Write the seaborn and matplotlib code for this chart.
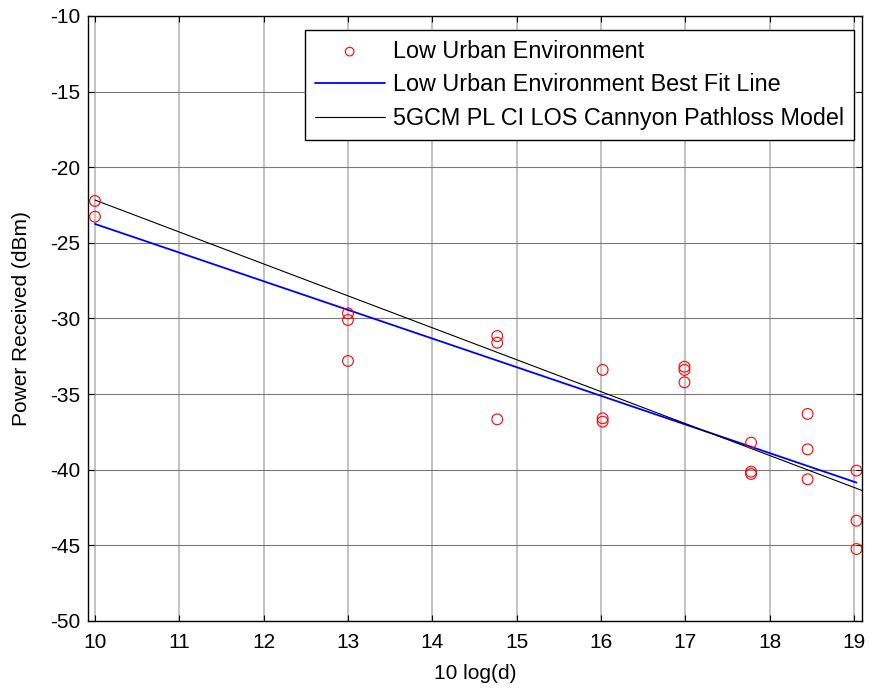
import matplotlib
matplotlib.use("Agg")
import matplotlib.pyplot as plt
import seaborn as sns
import pandas as pd
import numpy as np

# Data
x_meas = [10, 10,
          13, 13, 13,
          14.77, 14.77, 14.77,
          16.02, 16.02, 16.02,
          16.99, 16.99, 16.99,
          17.78, 17.78, 17.78,
          18.45, 18.45, 18.45,
          19.03, 19.03, 19.03]
p_meas = [-22.23, -23.27,
          -29.66, -30.10, -32.81,
          -31.16, -31.60, -36.67,
          -33.40, -36.60, -36.82,
          -33.19, -33.40, -34.22,
          -38.21, -40.13, -40.28,
          -36.31, -38.65, -40.63,
          -40.06, -43.37, -45.24]
fit_x = [10, 19.03]
fit_y = [-23.75, -40.85]
model_x = [10, 19.10]
model_y = [-22.17, -41.38]

x_ticks = [10, 11, 12, 13, 14, 15, 16, 17, 18, 19]
y_ticks = [-50, -45, -40, -35, -30, -25, -20, -15, -10]

labels = ["Low Urban Environment",
          "Low Urban Environment Best Fit Line",
          "5GCM PL CI LOS Cannyon Pathloss Model"]

sns.set_theme(style="white")
plt.rcParams['font.family'] = ['Liberation Sans', 'DejaVu Sans']
plt.rcParams['axes.unicode_minus'] = False
plt.rcParams['text.color'] = 'black'
plt.rcParams['axes.labelcolor'] = 'black'

fig = plt.figure(figsize=(8.7, 6.89), dpi=100)
ax = fig.add_axes([0.1011, 0.0987, 0.8897, 0.8781])

meas = pd.DataFrame({"x": x_meas, "y": p_meas})
fit = pd.DataFrame({"x": fit_x, "y": fit_y})
model = pd.DataFrame({"x": model_x, "y": model_y})

sns.scatterplot(data=meas, x="x", y="y", ax=ax, marker="o", s=60,
                facecolors="none", edgecolor="red", linewidth=0.8,
                label=labels[0], zorder=3)
sns.lineplot(data=fit, x="x", y="y", ax=ax, color="blue", linewidth=1.3,
             label=labels[1], zorder=2)
sns.lineplot(data=model, x="x", y="y", ax=ax, color="black", linewidth=0.8,
             label=labels[2], zorder=2)

ax.set_xlim(9.917, 19.095)
ax.set_ylim(-50, -10)
ax.set_xticks(x_ticks)
ax.set_yticks(y_ticks)
ax.set_xticklabels([str(t) for t in x_ticks])
ax.set_yticklabels([str(t) for t in y_ticks])

for xt in x_ticks:
    ax.axvline(xt, color="#b8b8b8", linewidth=1.2, zorder=0)
for yt in y_ticks:
    ax.axhline(yt, color="#7a7a7a", linewidth=0.8, zorder=0)

ax.tick_params(direction="in", length=4, width=0.8, colors="black",
               labelsize=15, top=True, right=True, bottom=True, left=True)
ax.tick_params(axis="x", pad=8.5)
ax.tick_params(axis="y", pad=5.5)
for s in ax.spines.values():
    s.set_color("black")
    s.set_linewidth(1.0)

ax.set_xlabel("10 log(d)", fontsize=15, labelpad=9)
ax.set_ylabel("Power Received (dBm)", fontsize=15, labelpad=14)

leg = ax.legend(loc="upper right", bbox_to_anchor=(0.9897, 0.9769),
                borderaxespad=0, fontsize=16.8, frameon=True, fancybox=False,
                edgecolor="black", framealpha=1, handlelength=3.0,
                handletextpad=0.36, labelspacing=0.45, borderpad=0.42,
                markerscale=0.8)
leg.get_frame().set_linewidth(1.0)

fig.savefig("out.png", dpi=100)
